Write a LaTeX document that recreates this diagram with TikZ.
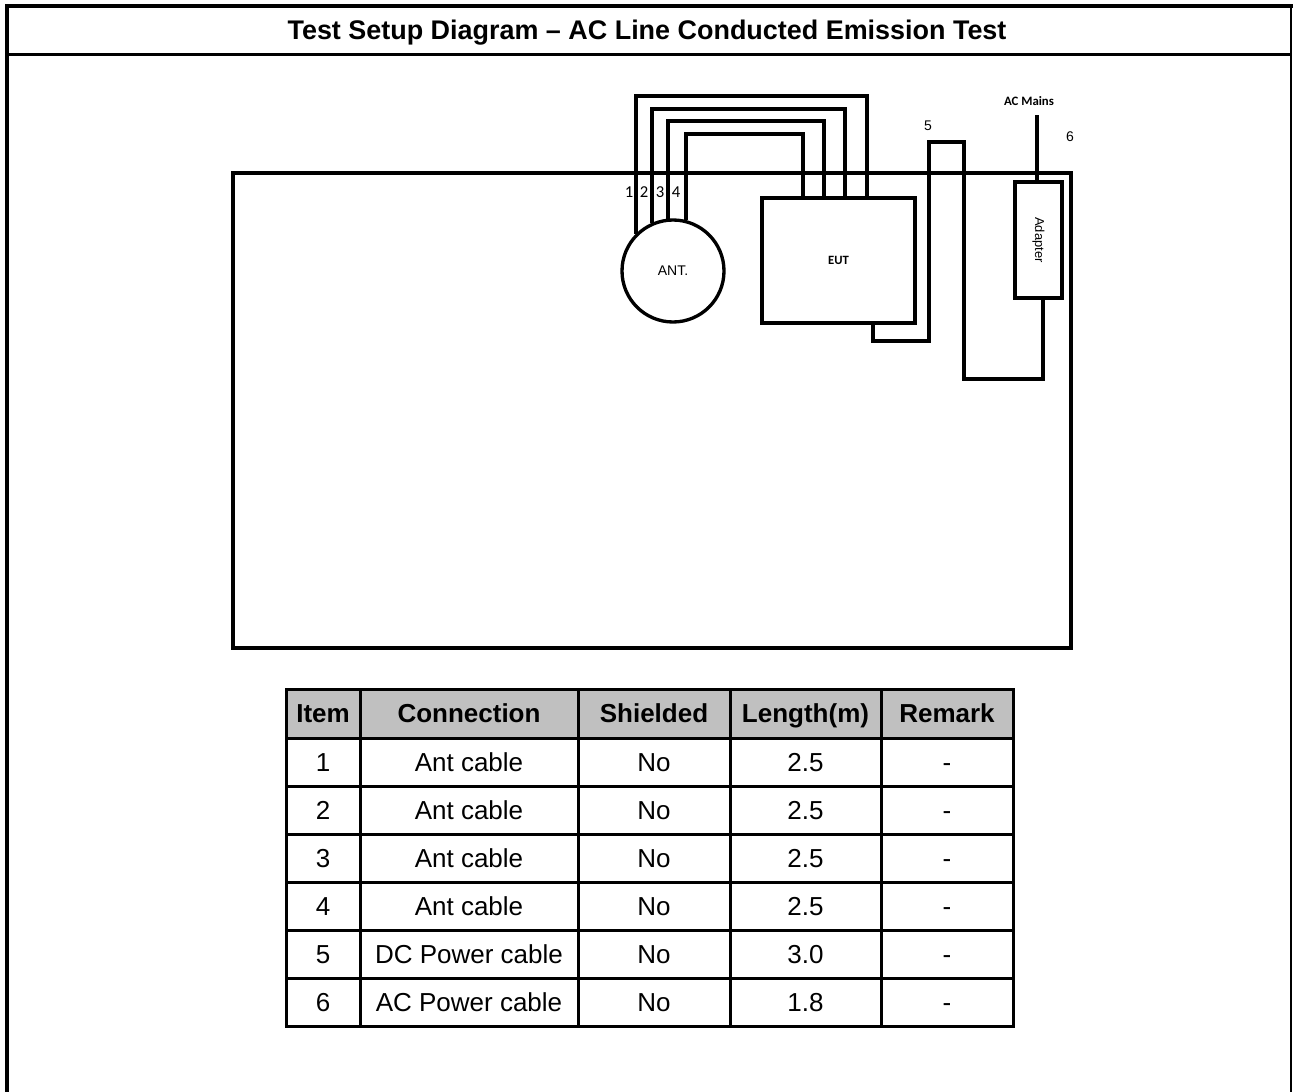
\documentclass[tikz,border=0pt]{standalone}
\usepackage{fontspec}
\setmainfont{Liberation Sans}
\newfontfamily\carlito{Carlito}
\usetikzlibrary{calc}

\definecolor{hdrgray}{RGB}{192,192,192}
\tikzset{every picture/.style={line width=0.75pt}}
\tikzset{
  cable/.style={line width=3pt},
  tblline/.style={line width=2.25pt, line cap=rect},
  cell/.style={anchor=base, inner sep=0pt, font=\fontsize{19.5}{22}\selectfont},
  hdr/.style={cell, font=\fontsize{19.5}{22}\selectfont\bfseries},
  numlbl/.style={inner sep=0pt, font=\carlito\fontsize{12.5}{14}\selectfont},
}

\begin{document}
\begin{tikzpicture}[x=0.75pt,y=0.75pt,yscale=-1,xscale=1]
\useasboundingbox (0,0) rectangle (1293,1092);

%Frame and title
\draw [line width=3pt, line cap=rect] (7,1095) -- (7,6.3) -- (1291,6.3) ;
\draw [line width=1.5pt] (1291,4.5) -- (1291,1092) ;
\draw [line width=2pt] (7,54.7) -- (1291,54.7) ;
\node [anchor=base, inner sep=0pt, font=\fontsize{20.2}{24}\selectfont\bfseries] (title) at (647,40) {Test Setup Diagram – AC Line Conducted Emission Test};

%Ground plane
\draw [line width=2.5pt] (233,173) rectangle (1071,648) ;

%Antenna, EUT, adapter
\node [circle, draw, line width=2.5pt, minimum size=76.5pt, inner sep=0pt, font=\fontsize{10.5}{12}\selectfont] (ant) at (673,271) {ANT.};
\node [rectangle, draw, line width=3pt, minimum width=114.75pt, minimum height=93.75pt, inner sep=0pt, font=\carlito\bfseries\fontsize{9.5}{11}\selectfont] (eut) at (838.5,260.5) {EUT};
\node [rectangle, draw, line width=3pt, minimum width=35.25pt, minimum height=87pt, inner sep=0pt,
  label={[rotate=-90, font=\fontsize{9.7}{11}\selectfont]center:Adapter}] (adapter) at (1038.5,240) {};

%Ant cables 1-4
\foreach \a/\xr/\yt in {135/867/96, 114.3/845/109, 95.6/824/121, 76.4/803/134} {
  \coordinate (top) at (\xr,\yt);
  \draw [cable] (ant.\a) |- (top) -- (top |- eut.north) ;
}
\node [numlbl] (n1) at (629,192) {1};
\node [numlbl] (n2) at (644,192) {2};
\node [numlbl] (n3) at (660,192) {3};
\node [numlbl] (n4) at (676,192) {4};

%DC power cable 5
\draw [cable] ($(eut.south west)+(113,0)$) |- (929,341) |- (964,142) -- (964,379) -| ($(adapter.south)+(4.5,0)$) ;
\node [inner sep=0pt, font=\fontsize{10.5}{12}\selectfont] (n5) at (928,126) {5};

%AC power cable 6
\coordinate (mains) at (1037,115);
\draw [cable] (mains) -- (mains |- adapter.north) ;
\node [inner sep=0pt, font=\carlito\bfseries\fontsize{9.6}{11}\selectfont] (acmains) at (1029,101) {AC Mains};
\node [inner sep=0pt, font=\fontsize{10.5}{12}\selectfont] (n6) at (1070,137) {6};

%Table
\fill [hdrgray] (286,689) rectangle (1013,738) ;
\foreach \y in {689,738,786,834,882,930,978,1026}
  \draw [tblline] (286,\y) -- (1013,\y) ;
\foreach \x in {286,360,578,730,881,1013}
  \draw [tblline] (\x,689) -- (\x,1026) ;
\node [hdr] (hitem) at (323,722.5) {Item};
\node [hdr] (hconn) at (469,722.5) {Connection};
\node [hdr] (hshld) at (654,722.5) {Shielded};
\node [hdr] (hlen) at (805.5,722.5) {Length(m)};
\node [hdr] (hrmk) at (947,722.5) {Remark};
\foreach \n/\conn/\len [count=\r] in {1/Ant cable/2.5, 2/Ant cable/2.5, 3/Ant cable/2.5, 4/Ant cable/2.5, 5/DC Power cable/3.0, 6/AC Power cable/1.8} {
  \pgfmathsetmacro{\yb}{723+48*\r}
  \node [cell] (item\r) at (323,\yb) {\n};
  \node [cell] (conn\r) at (469,\yb) {\conn};
  \node [cell] (shld\r) at (654,\yb) {No};
  \node [cell] (len\r) at (805.5,\yb) {\len};
  \node [cell] (rmk\r) at (947,\yb) {-};
}

\end{tikzpicture}
\end{document}
